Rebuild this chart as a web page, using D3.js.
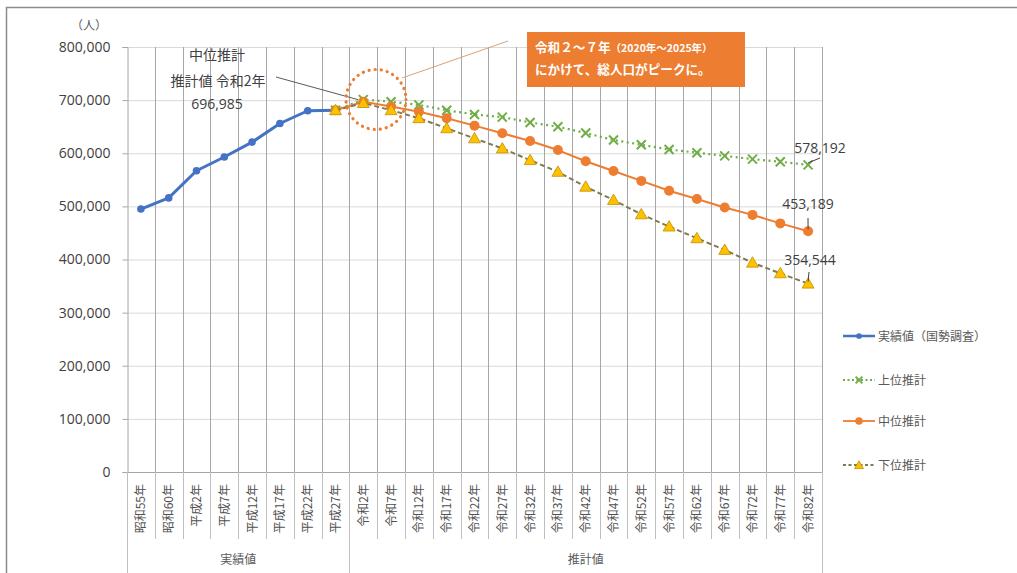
<!DOCTYPE html>
<html lang="ja">
<head>
<meta charset="utf-8">
<script src="https://cdn.jsdelivr.net/npm/d3@7"></script>
<style>
  html, body { margin: 0; padding: 0; background: #fff; }
  svg { display: block; font-family: "Noto Sans CJK JP", "Noto Sans", sans-serif; }
</style>
</head>
<body>
<svg id="chart" width="1017" height="573"></svg>
<script>
// 年次（国勢調査年）
const categories = [
  "昭和55年", "昭和60年", "平成2年", "平成7年", "平成12年", "平成17年", "平成22年", "平成27年",
  "令和2年", "令和7年", "令和12年", "令和17年", "令和22年", "令和27年", "令和32年", "令和37年",
  "令和42年", "令和47年", "令和52年", "令和57年", "令和62年", "令和67年", "令和72年", "令和77年", "令和82年"
];
// 実績値（昭和55年〜平成27年）
const actualValues = [495000, 516000, 567000, 593000, 621000, 656000, 680000, 681000];
// 推計値（平成27年〜令和82年）
const upperValues = [681000, 701000, 697000, 691000, 681000, 673000, 668000, 658000, 650000,
  638000, 625000, 616000, 607000, 601000, 595000, 589000, 584000, 578192];
const middleValues = [681000, 696985, 688000, 678000, 666000, 652000, 637500, 623000, 606000,
  585000, 566500, 548000, 529500, 514000, 498000, 484000, 468000, 453189];
const lowerValues = [681000, 694500, 681000, 666000, 647000, 628000, 609000, 587000, 565000,
  537000, 512000, 485000, 462000, 440000, 418000, 394000, 374000, 354544];
const yTicks = [0, 100000, 200000, 300000, 400000, 500000, 600000, 700000, 800000];
const groups = [
  { label: "実績値", from: 0, to: 7 },
  { label: "推計値", from: 8, to: 24 }
];
const legendLabels = ["実績値（国勢調査）", "上位推計", "中位推計", "下位推計"];

const svg = d3.select("#chart");
const fmt = d3.format(",");

// 外枠
svg.append("rect").attr("x", 6.5).attr("y", 7.5).attr("width", 1020).attr("height", 580)
  .attr("fill", "none").attr("stroke", "#8c8c8c").attr("stroke-width", 1.5);

const x = d3.scaleBand().domain(categories).range([127, 822]).padding(0);
const y = d3.scaleLinear().domain([0, 800000]).range([472, 47]);
const cx = c => x(c) + x.bandwidth() / 2;

// 横の目盛線
svg.append("g").selectAll("line").data(yTicks.filter(d => d > 0)).join("line")
  .attr("x1", 127).attr("x2", 822).attr("y1", d => y(d) + 0.5).attr("y2", d => y(d) + 0.5)
  .attr("stroke", "#d9d9d9").attr("stroke-width", 1);

// 縦の目盛線（区切り位置）
const bounds = categories.slice(1).map(c => x(c)).concat([822]);
svg.append("g").selectAll("line").data(bounds).join("line")
  .attr("x1", d => Math.round(d) + 0.5).attr("x2", d => Math.round(d) + 0.5)
  .attr("y1", y(800000)).attr("y2", 472)
  .attr("stroke", "#a6a6a6").attr("stroke-width", 1);

// Y軸
const yAxis = d3.axisLeft(y).tickValues(yTicks).tickFormat(fmt).tickSize(5).tickPadding(12);
const gy = svg.append("g").attr("transform", "translate(127.5,0)").call(yAxis);
gy.select(".domain").attr("stroke", "#a6a6a6");
gy.selectAll(".tick line").attr("stroke", "#a6a6a6");
gy.selectAll(".tick text").attr("fill", "#404040").style("font-size", "14px")
  .style("font-family", "'Open Sans', 'Noto Sans', sans-serif");
svg.append("text").attr("x", 89).attr("y", 30).attr("text-anchor", "middle")
  .attr("fill", "#595959").style("font-size", "12px").text("（人）");

// X軸（横線）
svg.append("line").attr("x1", 127).attr("x2", 822).attr("y1", 472.5).attr("y2", 472.5)
  .attr("stroke", "#a6a6a6");

// 項目ラベル（縦書き）
svg.append("g").selectAll("text").data(categories).join("text")
  .attr("transform", c => `translate(${cx(c) + 4.5},484) rotate(-90)`)
  .attr("text-anchor", "end").attr("fill", "#505050").style("font-size", "12px")
  .text(c => c);

// 項目の区切り線
svg.append("g").selectAll("line").data(categories.slice(1)).join("line")
  .attr("x1", c => Math.round(x(c)) + 0.5).attr("x2", c => Math.round(x(c)) + 0.5)
  .attr("y1", 472).attr("y2", 539).attr("stroke", "#bfbfbf");

// グループ区切りと見出し
const groupEdges = [0, 8].map(i => x(categories[i])).concat([822]);
svg.append("g").selectAll("line").data(groupEdges).join("line")
  .attr("x1", d => Math.round(d) + 0.5).attr("x2", d => Math.round(d) + 0.5)
  .attr("y1", 472).attr("y2", 573).attr("stroke", "#bfbfbf");
svg.append("g").selectAll("text").data(groups).join("text")
  .attr("x", g => (x(categories[g.from]) + x(categories[g.to]) + x.bandwidth()) / 2)
  .attr("y", 564).attr("text-anchor", "middle").attr("fill", "#595959")
  .style("font-size", "12px").text(g => g.label);

// 系列
const actualCats = categories.slice(0, 8);
const projCats = categories.slice(7);
const series = [
  { name: legendLabels[0], cats: actualCats, values: actualValues, color: "#4472c4", width: 3, dash: null, marker: "circle", r: 3.8 },
  { name: legendLabels[1], cats: projCats, values: upperValues, color: "#70ad47", width: 2.2, dash: "2,3.5", marker: "x" },
  { name: legendLabels[2], cats: projCats, values: middleValues, color: "#ed7d31", width: 2, dash: null, marker: "circle", r: 5 },
  { name: legendLabels[3], cats: projCats, values: lowerValues, color: "#807a52", width: 2, dash: "5,3", marker: "triangle" }
];

const line = d3.line().x(d => cx(d.c)).y(d => y(d.v));

function drawMarker(g, s, px, py, scale) {
  const k = scale || 1;
  if (s.marker === "circle") {
    g.append("circle").attr("cx", px).attr("cy", py).attr("r", s.r * k).attr("fill", s.color);
  } else if (s.marker === "x") {
    const a = 4.5 * k;
    g.append("path").attr("d", `M${px - a},${py - a}L${px + a},${py + a}M${px + a},${py - a}L${px - a},${py + a}`)
      .attr("stroke", s.color).attr("stroke-width", 2).attr("fill", "none");
  } else if (s.marker === "triangle") {
    g.append("path").attr("transform", `translate(${px},${py + 1})`)
      .attr("d", d3.symbol().type(d3.symbolTriangle).size(62 * k * k)())
      .attr("fill", "#ffc000").attr("stroke", "#bf9000").attr("stroke-width", 0.8);
  }
}

series.forEach(s => {
  const pts = s.cats.map((c, i) => ({ c, v: s.values[i] }));
  const g = svg.append("g");
  g.append("path").datum(pts).attr("d", line).attr("fill", "none")
    .attr("stroke", s.color).attr("stroke-width", s.width)
    .attr("stroke-dasharray", s.dash).attr("stroke-linejoin", "round");
  pts.forEach(p => drawMarker(g, s, cx(p.c), y(p.v)));
});

// 凡例
const legendY = [336, 380, 421, 465];
series.forEach((s, i) => {
  const g = svg.append("g");
  g.append("line").attr("x1", 843).attr("x2", 875).attr("y1", legendY[i]).attr("y2", legendY[i])
    .attr("stroke", s.color).attr("stroke-width", s.width === 3 ? 2.5 : 1.8)
    .attr("stroke-dasharray", s.dash ? (s.marker === "x" ? "2,2.5" : "3,2.5") : null);
  drawMarker(g, s, 859, legendY[i], 0.75);
  g.append("text").attr("x", 878).attr("y", legendY[i] + 4.5).attr("fill", "#595959")
    .style("font-size", "12px").text(s.name);
});

// 終点の値ラベル
const lastCat = categories[categories.length - 1];
const endLabels = [
  { v: upperValues[upperValues.length - 1], tx: 820, ty: 153, lx1: 820, ly1: 158 },
  { v: middleValues[middleValues.length - 1], tx: 808, ty: 209, lx1: 808, ly1: 218 },
  { v: lowerValues[lowerValues.length - 1], tx: 810, ty: 265, lx1: 809, ly1: 272 }
];
endLabels.forEach(e => {
  svg.append("line").attr("x1", e.lx1).attr("y1", e.ly1).attr("x2", cx(lastCat)).attr("y2", y(e.v) - 2)
    .attr("stroke", "#404040").attr("stroke-width", 1);
  svg.append("text").attr("x", e.tx).attr("y", e.ty).attr("text-anchor", "middle")
    .attr("fill", "#404040").style("font-size", "14px")
    .style("font-family", "'Open Sans', 'Noto Sans', sans-serif").text(fmt(e.v));
});

// 中位推計 令和2年 の注記
const peakCat = categories[8];
const peakVal = middleValues[1];
const note = svg.append("g").attr("fill", "#404040").style("font-size", "14px");
note.append("text").attr("x", 217).attr("y", 60).attr("text-anchor", "middle").text("中位推計");
note.append("text").attr("x", 218).attr("y", 86).attr("text-anchor", "middle").text("推計値 令和2年");
note.append("text").attr("x", 217).attr("y", 109).attr("text-anchor", "middle")
  .style("font-family", "'Open Sans', 'Noto Sans', sans-serif").text(fmt(peakVal));
svg.append("line").attr("x1", 276).attr("y1", 77).attr("x2", cx(peakCat) - 5).attr("y2", y(peakVal) - 2)
  .attr("stroke", "#595959").attr("stroke-width", 1);

// ピーク期間を囲む点線の円
svg.append("ellipse").attr("cx", 376).attr("cy", 99.5).attr("rx", 30).attr("ry", 30)
  .attr("fill", "none").attr("stroke", "#ed7d31").attr("stroke-width", 3.2)
  .attr("stroke-dasharray", "0.1,6").attr("stroke-linecap", "round");
svg.append("line").attr("x1", 402).attr("y1", 78).attr("x2", 508).attr("y2", 41)
  .attr("stroke", "#d9a27a").attr("stroke-width", 1);

// 吹き出しボックス
svg.append("rect").attr("x", 527).attr("y", 32).attr("width", 218).attr("height", 55)
  .attr("fill", "#ed7d31");
const box = svg.append("text").attr("fill", "#fff").style("font-size", "12.6px").style("font-weight", "bold");
const l1 = box.append("tspan").attr("x", 535).attr("y", 52);
l1.append("tspan").text("令和２～７年");
l1.append("tspan").style("font-size", "10.5px").text("（2020年～2025年）");
box.append("tspan").attr("x", 535).attr("y", 74).text("にかけて、総人口がピークに。");
</script>
</body>
</html>
